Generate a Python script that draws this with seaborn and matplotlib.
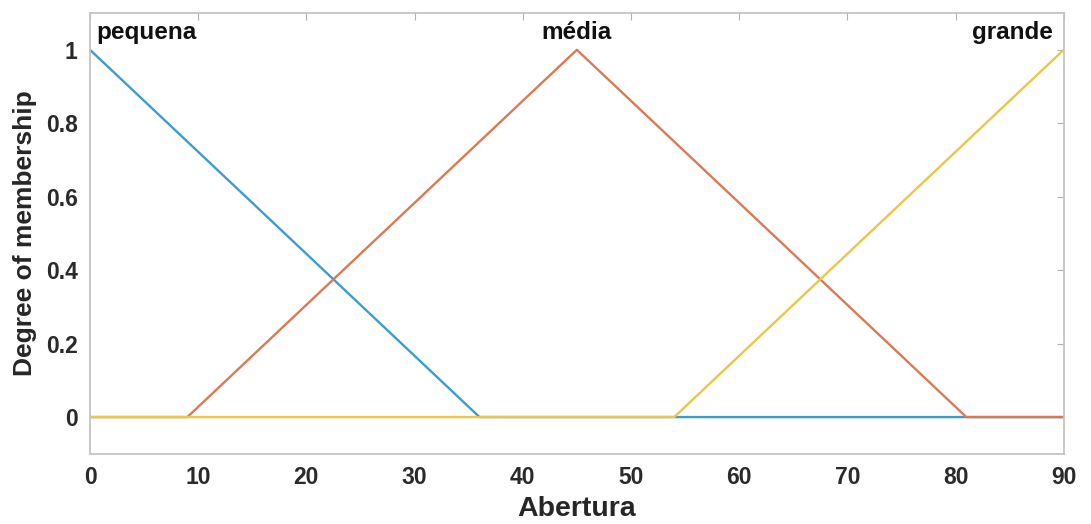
import pandas as pd
import matplotlib.pyplot as plt
import seaborn as sns

# membership function breakpoints (Abertura)
x_pequena = [0, 36, 90]
y_pequena = [1, 0, 0]
x_media = [0, 9, 45, 81, 90]
y_media = [0, 0, 1, 0, 0]
x_grande = [0, 54, 90]
y_grande = [0, 0, 1]

labels = ["pequena", "média", "grande"]
colors = ["#3A9DD2", "#DB7A52", "#E9C64C"]

sns.set_style("white")
plt.rcParams["font.family"] = ["Liberation Sans", "DejaVu Sans"]
plt.rcParams["font.weight"] = "bold"

fig, ax = plt.subplots(figsize=(10.91, 5.24), dpi=100)
fig.subplots_adjust(left=0.0825, right=0.975, top=0.975, bottom=0.134)

for xs, ys, c in zip([x_pequena, x_media, x_grande], [y_pequena, y_media, y_grande], colors):
    df = pd.DataFrame({"x": xs, "y": ys})
    sns.lineplot(data=df, x="x", y="y", color=c, linewidth=1.7, ax=ax)

ax.text(0.6, 1.015, labels[0], ha="left", va="bottom", fontsize=17.5, fontweight="bold", color="#111111")
ax.text(45, 1.015, labels[1], ha="center", va="bottom", fontsize=17.5, fontweight="bold", color="#111111")
ax.text(89.0, 1.015, labels[2], ha="right", va="bottom", fontsize=17.5, fontweight="bold", color="#111111")

ax.set_xlim(0, 90)
ax.set_ylim(-0.1, 1.1)
ax.set_xticks(range(0, 91, 10))
ax.set_yticks([0, 0.2, 0.4, 0.6, 0.8, 1])
ax.set_yticklabels(["0", "0.2", "0.4", "0.6", "0.8", "1"])
ax.set_xlabel("Abertura", fontsize=20.5, fontweight="bold", color="#262626", labelpad=5)
ax.set_ylabel("Degree of membership", fontsize=19, fontweight="bold", color="#262626", labelpad=6)
ax.tick_params(direction="in", length=5, color="#b0b0b0", labelsize=16.5, labelcolor="#2a2a2a",
               top=True, right=True, pad=9)
for s in ax.spines.values():
    s.set_color("#c4c4c4")
    s.set_linewidth(1.3)

plt.savefig("out.png", dpi=100)
